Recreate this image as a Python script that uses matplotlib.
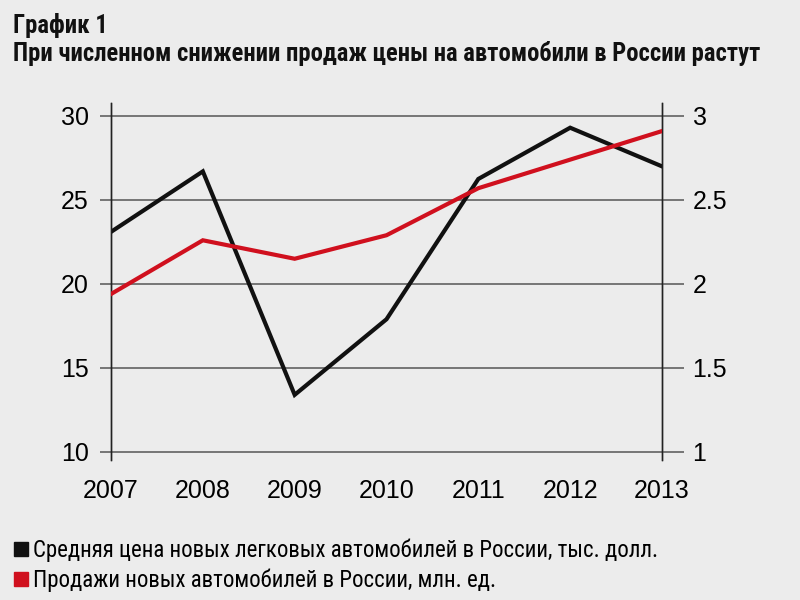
import matplotlib
matplotlib.use('Agg')
import matplotlib.pyplot as plt
from matplotlib.lines import Line2D

years = [2007, 2008, 2009, 2010, 2011, 2012, 2013]
price = [23.1, 26.7, 13.4, 17.9, 26.25, 29.3, 27.0]      # тыс. долл., left axis
sales = [1.94, 2.26, 2.15, 2.29, 2.57, 2.74, 2.91]      # млн. ед., right axis

left_ticks = [10, 15, 20, 25, 30]
right_ticks = [1, 1.5, 2, 2.5, 3]
right_labels = ['1', '1.5', '2', '2.5', '3']

title1 = 'График 1'
title2 = 'При численном снижении продаж цены на автомобили в России растут'
label_price = 'Средняя цена новых легковых автомобилей в России, тыс. долл.'
label_sales = 'Продажи новых автомобилей в России, млн. ед.'

BG = '#ececec'
GRID = '#555555'
RED = '#d0101e'
NARROW = ['Roboto Condensed', 'PT Sans Narrow', 'DejaVu Sans']
plt.rcParams['font.family'] = ['Liberation Sans', 'DejaVu Sans']

fig = plt.figure(figsize=(8, 6), dpi=100, facecolor=BG)
ax = fig.add_axes([0.13875, 0.2333, 0.68875, 0.595])
ax.set_facecolor(BG)

ylo, yhi = 9.52, 30.77
ax.set_ylim(ylo, yhi)
ax.set_xlim(years[0], years[-1])

for v in left_ticks:
    ax.axhline(v, color=GRID, lw=1.1, zorder=1)

ax.plot(years, price, color='#111111', lw=3, zorder=3, solid_joinstyle='miter')

ax2 = ax.twinx()
ax2.set_ylim(1 + (ylo - 10) / 10, 3 + (yhi - 30) / 10)
ax2.plot(years, sales, color=RED, lw=3, zorder=3, solid_joinstyle='miter')

ax.set_yticks(left_ticks)
ax.set_yticklabels([str(t) for t in left_ticks])
ax.tick_params(axis='y', direction='out', length=8, width=1.1, color=GRID,
               pad=8, labelsize=18)
ax2.set_yticks(right_ticks)
ax2.set_yticklabels(right_labels)
ax2.tick_params(axis='y', direction='out', length=16, width=1.1, color=GRID,
                pad=6, labelsize=18)

ax.set_xticks(years)
ax.set_xticklabels([str(y) for y in years])
ax.tick_params(axis='x', length=0, pad=14, labelsize=18)

for a in (ax, ax2):
    a.spines['top'].set_visible(False)
    a.spines['bottom'].set_visible(False)
    a.spines['left'].set_color('#222222')
    a.spines['right'].set_color('#222222')
    a.spines['left'].set_linewidth(1)
    a.spines['right'].set_linewidth(1)

fig.text(0.016, 0.957, title1, fontsize=17.7, fontweight='bold',
         family=NARROW, va='center', ha='left', color='#111111')
fig.text(0.016, 0.911, title2, fontsize=17.7, fontweight='bold',
         family=NARROW, va='center', ha='left', color='#111111')

handles = [Line2D([], [], ls='none', marker='s', ms=10, color='#111111'),
           Line2D([], [], ls='none', marker='s', ms=10, color=RED)]
fig.legend(handles, [label_price, label_sales], loc='upper left',
           bbox_to_anchor=(0.005, 0.117), frameon=False, handlelength=0.7,
           handletextpad=0.15, labelspacing=0.25, borderaxespad=0,
           prop={'family': NARROW, 'size': 16.5})

fig.savefig('out.png', dpi=100, facecolor=BG)
